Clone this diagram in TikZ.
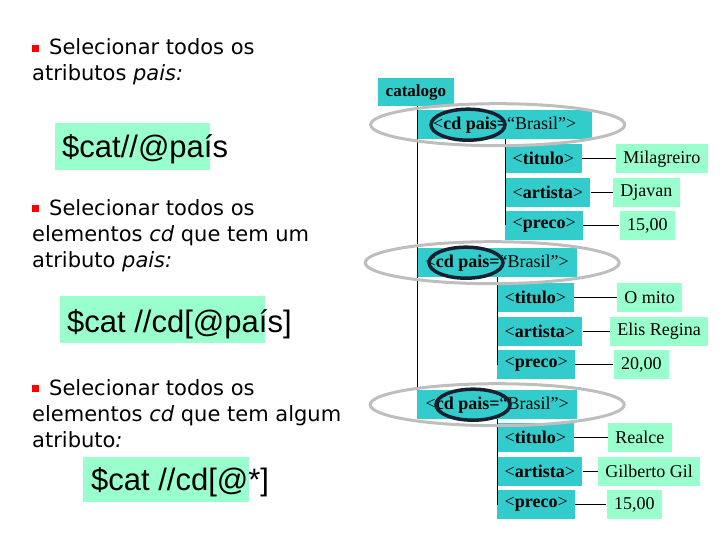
\documentclass[tikz,border=0pt]{standalone}
\usepackage{fontspec}
\setmainfont{Liberation Serif}
\newfontfamily\bodyfont{DejaVu Sans}
\newfontfamily\codefont{Liberation Sans}
\usetikzlibrary{positioning, shapes.geometric}
\definecolor{tagteal}{RGB}{51,204,204}
\definecolor{valmint}{RGB}{153,255,204}
\definecolor{ringgray}{RGB}{190,190,190}
\definecolor{ringdark}{RGB}{22,32,48}

\begin{document}
\begin{tikzpicture}[x=1pt, y=-1pt,
  every node/.style={font=\fontsize{18}{21}\selectfont},
  tagbox/.style={fill=tagteal, inner xsep=7.5pt, inner ysep=0pt,
    minimum height=29pt, anchor=north west},
  valbox/.style={fill=valmint, inner xsep=7.5pt, inner ysep=0pt,
    minimum height=29pt},
  bullettext/.style={font=\bodyfont\fontsize{21}{26}\selectfont,
    align=left, anchor=base west, inner sep=0pt},
  query/.style={font=\codefont\fontsize{31}{36}\selectfont,
    anchor=base west, inner sep=0pt},
  highlight/.style={fill=valmint, anchor=north west, inner sep=0pt},
  wire/.style={black, line width=0.8pt},
  outerring/.style={draw=ringgray, line width=3pt, ellipse,
    minimum width=254pt, minimum height=42pt},
  innerring/.style={draw=ringdark, line width=3.5pt, ellipse,
    minimum width=74pt, minimum height=31pt},
]
\useasboundingbox (0,0) rectangle (720,540);

\newcommand{\redsq}{\raisebox{3pt}{\textcolor{red}{\rule{7pt}{7pt}}}\hspace{10pt}}

% Left column: questions and queries (base = last line)
\node[bullettext] (ask1) at (32,81)
  {\redsq Selecionar todos os\\atributos \textit{pais:}};
\node[highlight, minimum width=155pt, minimum height=47pt] (hl1) at (55,123) {};
\node[query] (q1) at (62,158) {\$cat//@país};

\node[bullettext] (ask2) at (32,267)
  {\redsq Selecionar todos os\\elementos \textit{cd} que tem um\\atributo \textit{pais:}};
\node[highlight, minimum width=205pt, minimum height=47pt] (hl2) at (60,296) {};
\node[query] (q2) at (67,332) {\$cat //cd[@país]};

\node[bullettext] (ask3) at (32,447)
  {\redsq Selecionar todos os\\elementos \textit{cd} que tem algum\\atributo\textit{:}};
\node[highlight, minimum width=166pt, minimum height=45pt] (hl3) at (83,457) {};
\node[query] (q3) at (91,490) {\$cat //cd[@*]};

% Right column: document tree
\node[tagbox, minimum height=28pt, font=\fontsize{17}{20}\selectfont] (catalogo) at (378,78) {\textbf{catalogo}};

\node[tagbox, inner xsep=5pt, minimum width=175pt] (cd1) at (417,110) {<\textbf{cd pais=}“Brasil”>};
\node[tagbox, inner xsep=5pt, minimum width=160pt] (cd2) at (417,248) {<\textbf{cd pais=}“Brasil”>};
\node[tagbox, inner xsep=5pt, minimum width=160pt] (cd3) at (417,390) {<\textbf{cd pais=}“Brasil”>};

\draw[wire] (catalogo.south -| cd1.west) -- (cd3.north west);

% first cd
\node[tagbox] (tit1) at (505,144) {<\textbf{titulo}>};
\node[tagbox, below right=4pt and 0pt of tit1.south west] (art1) {<\textbf{artista}>};
\node[tagbox, below right=4pt and 0pt of art1.south west] (pre1) {<\textbf{preco}>};
\node[valbox, right=34pt of tit1] (val1a) {Milagreiro};
\node[valbox, right=22pt of art1] (val1b) {Djavan};
\node[valbox, right=36pt of pre1] (val1c) {15,00};

% second cd
\node[tagbox] (tit2) at (497,283) {<\textbf{titulo}>};
\node[tagbox, below right=4pt and 0pt of tit2.south west] (art2) {<\textbf{artista}>};
\node[tagbox, below right=4pt and 0pt of art2.south west] (pre2) {<\textbf{preco}>};
\node[valbox, right=43pt of tit2] (val2a) {O mito};
\node[valbox, right=27pt of art2] (val2b) {Elis Regina};
\node[valbox, right=38pt of pre2] (val2c) {20,00};

% third cd
\node[tagbox] (tit3) at (497,423) {<\textbf{titulo}>};
\node[tagbox, below right=4pt and 0pt of tit3.south west] (art3) {<\textbf{artista}>};
\node[tagbox, below right=4pt and 0pt of art3.south west] (pre3) {<\textbf{preco}>};
\node[valbox, right=34pt of tit3] (val3a) {Realce};
\node[valbox, right=15pt of art3] (val3b) {Gilberto Gil};
\node[valbox, right=31pt of pre3] (val3c) {15,00};

\foreach \k in {1,2,3} {
  \draw[wire] (cd\k.south -| tit\k.west) -- (pre\k.west);
  \draw[wire] (tit\k) -- (val\k a);
  \draw[wire] (art\k) -- (val\k b);
  \draw[wire] (pre\k) -- (val\k c);
}

% rings
\node[outerring] (band1) at (cd1.center) [xshift=-7pt] {};
\node[outerring] (band2) at (cd2.center) [xshift=-5pt] {};
\node[outerring] (band3) at (cd3.center) {};
\node[innerring, xshift=51pt] (mark1) at (cd1.west) {};
\node[innerring, xshift=49pt] (mark2) at (cd2.west) {};
\node[innerring, xshift=56pt] (mark3) at (cd3.west) {};

\end{tikzpicture}
\end{document}
